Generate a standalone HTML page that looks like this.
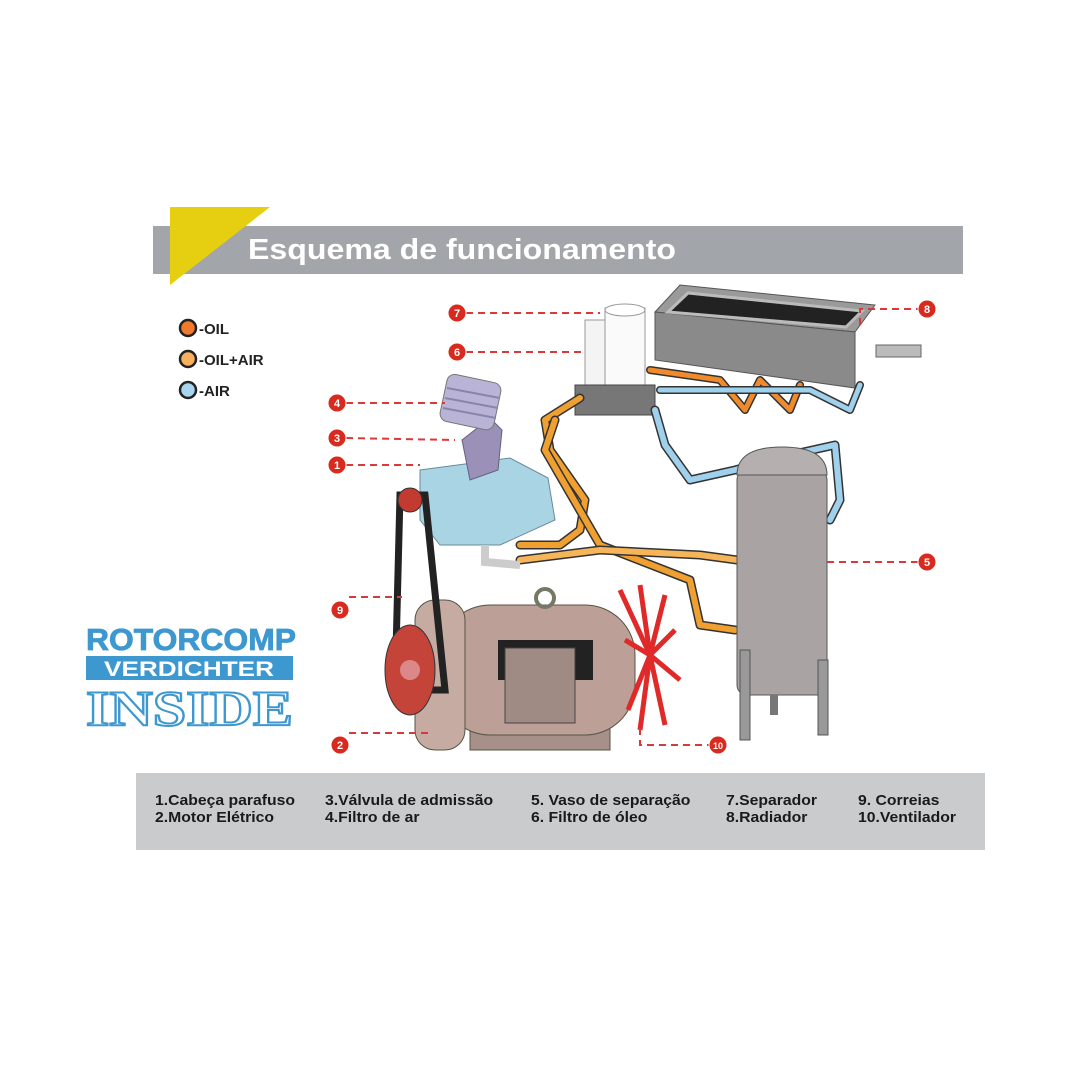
<!DOCTYPE html>
<html><head><meta charset="utf-8"><style>
body{margin:0;width:1080px;height:1080px;background:#fff;overflow:hidden;position:relative;font-family:"Liberation Sans",sans-serif}
.leg{position:absolute;font-family:"Liberation Sans Narrow","Liberation Sans",sans-serif;font-weight:bold;font-size:15px;color:#1a1a1a;line-height:17px;white-space:nowrap;transform:scaleX(1.05);transform-origin:left}
</style></head><body>
<svg width="1080" height="1080" style="position:absolute;left:0;top:0" xmlns="http://www.w3.org/2000/svg">
<rect x="153" y="226" width="810" height="48" fill="#a2a5a9"/>
<polygon points="170,207 270,207 170,285" fill="#e6cf10"/>
<text x="248" y="259" font-family="Liberation Sans" font-weight="bold" font-size="29" fill="#fff" textLength="428" lengthAdjust="spacingAndGlyphs">Esquema de funcionamento</text>
<circle cx="188" cy="328" r="8" fill="#f07a2a" stroke="#222" stroke-width="2.5"/>
<text x="199" y="334" font-weight="bold" font-size="15" fill="#222">-OIL</text>
<circle cx="188" cy="359" r="8" fill="#f7b060" stroke="#222" stroke-width="2.5"/>
<text x="199" y="365" font-weight="bold" font-size="15" fill="#222">-OIL+AIR</text>
<circle cx="188" cy="390" r="8" fill="#a8d4ee" stroke="#222" stroke-width="2.5"/>
<text x="199" y="396" font-weight="bold" font-size="15" fill="#222">-AIR</text>
<text x="86" y="650" font-weight="bold" font-size="31" fill="#3e98d0" stroke="#3e98d0" stroke-width="0.8" textLength="210" lengthAdjust="spacingAndGlyphs">ROTORCOMP</text>
<rect x="86" y="656" width="207" height="24" fill="#3e98d0"/>
<text x="189" y="676" text-anchor="middle" font-weight="bold" font-size="21" fill="#fff" textLength="170" lengthAdjust="spacingAndGlyphs">VERDICHTER</text>
<text x="86" y="725" font-family="Liberation Serif" font-weight="bold" font-size="50" fill="#fff" stroke="#3e98d0" stroke-width="2" textLength="207" lengthAdjust="spacingAndGlyphs">INSIDE</text>
<polygon points="655,312 680,285 875,305 855,332" fill="#9a9a9a" stroke="#555"/>
<polygon points="655,312 855,332 855,388 655,360" fill="#8a8a8a" stroke="#555"/>
<polygon points="668,312 688,293 862,311 846,327" fill="#222" stroke="#bbb" stroke-width="3"/>
<path d="M876,345 h45 v12 h-45z" fill="#bbb" stroke="#666"/>
<rect x="585" y="320" width="30" height="70" fill="#f4f4f4" stroke="#999"/>
<rect x="605" y="308" width="40" height="88" fill="#fafafa" stroke="#999"/>
<ellipse cx="625" cy="310" rx="20" ry="6" fill="#fff" stroke="#999"/>
<rect x="575" y="385" width="80" height="30" fill="#777" stroke="#444"/>
<g fill="none" stroke-linecap="round" stroke-linejoin="round">
<path d="M580,398 L545,420 L550,450 L585,500 L580,530 L560,545 L520,545" stroke="#333" stroke-width="9"/>
<path d="M580,398 L545,420 L550,450 L585,500 L580,530 L560,545 L520,545" stroke="#f0a030" stroke-width="6"/>
<path d="M555,420 L545,450 L600,545 L690,580 L700,625 L735,630" stroke="#333" stroke-width="9"/>
<path d="M555,420 L545,450 L600,545 L690,580 L700,625 L735,630" stroke="#f0a030" stroke-width="6"/>
<path d="M520,560 L600,550 L700,555 L737,560" stroke="#333" stroke-width="9"/>
<path d="M520,560 L600,550 L700,555 L737,560" stroke="#f7b55a" stroke-width="6"/>
<path d="M655,410 L665,445 L690,480 L735,470 L790,455 L835,445 L840,500 L830,520" stroke="#333" stroke-width="9"/>
<path d="M655,410 L665,445 L690,480 L735,470 L790,455 L835,445 L840,500 L830,520" stroke="#9fd0ec" stroke-width="6"/>
<path d="M650,370 L720,380 L745,410 L760,380 L790,410 L800,385" stroke="#333" stroke-width="8"/>
<path d="M650,370 L720,380 L745,410 L760,380 L790,410 L800,385" stroke="#f08a2a" stroke-width="5"/>
<path d="M660,390 L810,390 L850,410 L860,385" stroke="#333" stroke-width="8"/>
<path d="M660,390 L810,390 L850,410 L860,385" stroke="#9fd0ec" stroke-width="5"/>
</g>
<rect x="737" y="470" width="90" height="225" rx="10" fill="#a9a3a3" stroke="#555"/>
<path d="M737,475 Q737,447 782,447 Q827,447 827,475z" fill="#b5afaf" stroke="#555"/>
<rect x="740" y="650" width="10" height="90" fill="#999" stroke="#555"/>
<rect x="818" y="660" width="10" height="75" fill="#999" stroke="#555"/>
<rect x="770" y="695" width="8" height="20" fill="#777"/>
<path d="M420,470 L510,458 L548,478 L555,520 L500,545 L440,545 L420,520z" fill="#a9d4e4" stroke="#6a8a9a"/>
<path d="M462,440 L490,418 L502,430 L498,470 L470,480z" fill="#9a90b8" stroke="#665f80"/>
<rect x="443" y="378" width="55" height="48" rx="8" fill="#b9b3d6" stroke="#777" transform="rotate(12 470 402)"/>
<g stroke="#8a84a8" stroke-width="2"><line x1="447" y1="388" x2="500" y2="398"/><line x1="445" y1="398" x2="498" y2="408"/><line x1="443" y1="408" x2="496" y2="418"/></g>
<path d="M485,545 L485,562 L520,565" fill="none" stroke="#ccc" stroke-width="8"/>
<rect x="470" y="705" width="140" height="45" fill="#a8908a" stroke="#554"/>
<rect x="440" y="605" width="195" height="130" rx="50" fill="#bc9f96" stroke="#554"/>
<rect x="415" y="600" width="50" height="150" rx="20" fill="#c5aba2" stroke="#554"/>
<rect x="498" y="640" width="95" height="40" fill="#222"/>
<rect x="505" y="648" width="70" height="75" fill="#a08a84" stroke="#444"/>
<circle cx="545" cy="598" r="9" fill="none" stroke="#776" stroke-width="4"/>
<g stroke="#e02a2a" stroke-width="5">
<line x1="650" y1="655" x2="620" y2="590"/><line x1="650" y1="655" x2="640" y2="585"/><line x1="650" y1="655" x2="665" y2="595"/><line x1="650" y1="655" x2="675" y2="630"/><line x1="650" y1="655" x2="680" y2="680"/><line x1="650" y1="655" x2="665" y2="725"/><line x1="650" y1="655" x2="640" y2="730"/><line x1="650" y1="655" x2="628" y2="710"/><line x1="650" y1="655" x2="625" y2="640"/></g>
<path d="M400,495 L395,690 L445,690 L425,495z" fill="none" stroke="#222" stroke-width="7"/>
<circle cx="410" cy="500" r="12" fill="#c23a30" stroke="#333"/>
<ellipse cx="410" cy="670" rx="25" ry="45" fill="#c4443a" stroke="#333"/>
<circle cx="410" cy="670" r="10" fill="#d88"/>
<g stroke="#d83a3a" stroke-width="2" stroke-dasharray="7,5" fill="none">
<line x1="466" y1="313" x2="600" y2="313"/><line x1="466" y1="352" x2="585" y2="352"/>
<line x1="346" y1="403" x2="445" y2="403"/><line x1="346" y1="438" x2="455" y2="440"/><line x1="346" y1="465" x2="420" y2="465"/>
<line x1="349" y1="597" x2="402" y2="597"/><line x1="349" y1="733" x2="430" y2="733"/>
<path d="M640,728 L640,745 L709,745"/><line x1="827" y1="562" x2="918" y2="562"/><path d="M860,325 L860,309 L918,309"/>
</g>
<g fill="#d82a1e" stroke="#fff" stroke-width="1">
<circle cx="457" cy="313" r="9"/><circle cx="457" cy="352" r="9"/><circle cx="337" cy="403" r="9"/><circle cx="337" cy="438" r="9"/><circle cx="337" cy="465" r="9"/><circle cx="340" cy="610" r="9"/><circle cx="340" cy="745" r="9"/><circle cx="718" cy="745" r="9"/><circle cx="927" cy="562" r="9"/><circle cx="927" cy="309" r="9"/></g>
<g fill="#fff" font-weight="bold" font-size="11" text-anchor="middle">
<text x="457" y="317">7</text><text x="457" y="356">6</text><text x="337" y="407">4</text><text x="337" y="442">3</text><text x="337" y="469">1</text><text x="340" y="614">9</text><text x="340" y="749">2</text><text x="718" y="749" font-size="9">10</text><text x="927" y="566">5</text><text x="927" y="313">8</text></g>
<rect x="136" y="773" width="849" height="77" fill="#c9cbcd"/>
</svg>
<div class="leg" style="left:155px;top:792px">1.Cabeça parafuso<br>2.Motor Elétrico</div>
<div class="leg" style="left:325px;top:792px">3.Válvula de admissão<br>4.Filtro de ar</div>
<div class="leg" style="left:531px;top:792px">5. Vaso de separação<br>6. Filtro de óleo</div>
<div class="leg" style="left:726px;top:792px">7.Separador<br>8.Radiador</div>
<div class="leg" style="left:858px;top:792px">9. Correias<br>10.Ventilador</div>
</body></html>
